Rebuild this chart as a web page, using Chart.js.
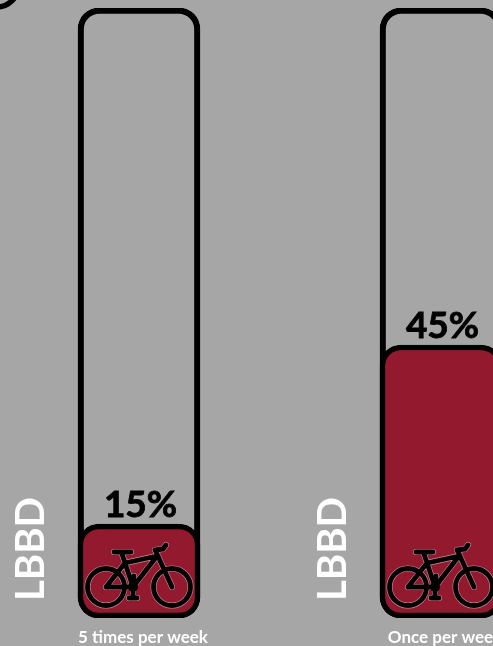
<!DOCTYPE html>
<html><head><meta charset="utf-8">
<style>
html,body{margin:0;padding:0;background:#A6A6A6;overflow:hidden;width:493px;height:646px}
canvas{position:absolute;left:-12px;top:0}
</style>
<script src="https://cdn.jsdelivr.net/npm/chart.js@4/dist/chart.umd.min.js"></script>
</head><body>
<canvas id="c" width="604" height="646"></canvas>
<script>
const categories = ["5 times per week", "Once per week"];
const shareValues = [15.4, 44.75];
const outlineValues = [100, 100];
const valueLabels = ["15%", "45%"];
const sideLabels = ["LBBD", "LBBD"];

const BLACK = "#000000", RED = "#931A2E", WHITE = "#FFFFFF";
const FONT = "Lato, 'Open Sans', sans-serif";

function drawBike(ctx, cx, cy) {
  const shapes = () => {
    ctx.beginPath();
    ctx.arc(cx - 33, cy, 18.5, 0, Math.PI * 2);
    ctx.moveTo(cx + 33 + 18.5, cy);
    ctx.arc(cx + 33, cy, 18.5, 0, Math.PI * 2);
    ctx.moveTo(cx - 33, cy);
    ctx.lineTo(cx - 6, cy);
    ctx.lineTo(cx - 14, cy - 24);
    ctx.lineTo(cx - 33, cy);
    ctx.moveTo(cx - 14, cy - 24);
    ctx.lineTo(cx + 18, cy - 31);
    ctx.lineTo(cx - 6, cy);
    ctx.moveTo(cx - 14, cy - 24);
    ctx.lineTo(cx - 17, cy - 33);
    ctx.moveTo(cx + 33, cy);
    ctx.lineTo(cx + 18, cy - 33);
    ctx.lineTo(cx + 16, cy - 37);
    ctx.lineTo(cx + 24, cy - 38);
    ctx.lineTo(cx + 27, cy - 42);
    ctx.moveTo(cx - 25, cy - 35);
    ctx.lineTo(cx - 8, cy - 35);
    ctx.moveTo(cx - 6, cy);
    ctx.lineTo(cx - 6, cy + 11);
    ctx.moveTo(cx - 10, cy + 11);
    ctx.lineTo(cx - 2, cy + 11);
    ctx.moveTo(cx - 6, cy);
    ctx.lineTo(cx - 5, cy - 11);
  };
  ctx.save();
  ctx.lineCap = "round";
  ctx.lineJoin = "round";
  shapes();
  ctx.strokeStyle = "rgba(255,255,255,0.5)";
  ctx.lineWidth = 6;
  ctx.stroke();
  shapes();
  ctx.strokeStyle = BLACK;
  ctx.lineWidth = 4.8;
  ctx.stroke();
  ctx.beginPath();
  ctx.arc(cx - 6, cy, 5, 0, Math.PI * 2);
  ctx.fillStyle = BLACK;
  ctx.fill();
  ctx.restore();
}

const decorations = {
  id: "decorations",
  afterDatasetsDraw(chart) {
    const { ctx, scales } = chart;
    const bars = chart.getDatasetMeta(1).data;
    const base = scales.y.getPixelForValue(0);
    ctx.save();
    // corner of the neighbouring panel, cut by the frame
    ctx.beginPath();
    ctx.arc(9, -14, 21, 0, Math.PI / 2 + 0.3);
    ctx.strokeStyle = BLACK;
    ctx.lineWidth = 5.5;
    ctx.stroke();
    bars.forEach((bar, i) => {
      ctx.fillStyle = BLACK;
      ctx.strokeStyle = BLACK;
      ctx.lineWidth = 0.8;
      ctx.font = "bold 37px " + FONT;
      ctx.textAlign = "center";
      ctx.textBaseline = "alphabetic";
      ctx.fillText(valueLabels[i], bar.x + 1.5, bar.y - 7);
      ctx.strokeText(valueLabels[i], bar.x + 1.5, bar.y - 7);
      drawBike(ctx, bar.x, base - 31);
      ctx.save();
      ctx.translate(bar.x - 95, base - 69);
      ctx.rotate(-Math.PI / 2);
      ctx.fillStyle = WHITE;
      ctx.font = "bold 40px " + FONT;
      ctx.textAlign = "center";
      ctx.textBaseline = "alphabetic";
      ctx.fillText(sideLabels[i], 0, 0);
      ctx.restore();
    });
    ctx.restore();
  }
};

new Chart(document.getElementById("c"), {
  type: "bar",
  plugins: [decorations],
  data: {
    labels: categories,
    datasets: [
      { data: outlineValues, backgroundColor: "rgba(0,0,0,0)", borderColor: BLACK, borderWidth: 5.5, borderRadius: 21, borderSkipped: false, barThickness: 122, order: 2 },
      { data: shareValues, backgroundColor: RED, borderColor: BLACK, borderWidth: 5.5, borderRadius: 21, borderSkipped: false, barThickness: 122, order: 1 }
    ]
  },
  options: {
    responsive: false,
    animation: false,
    events: [],
    layout: { padding: { top: 8, left: 0, right: 0, bottom: 0 } },
    plugins: { legend: { display: false }, tooltip: { enabled: false } },
    scales: {
      x: {
        stacked: false,
        afterFit(s) { s.height = 28; },
        grid: { display: false },
        border: { display: false },
        ticks: { color: WHITE, font: { family: FONT, weight: "bold", size: 17 }, maxRotation: 0, autoSkip: false, padding: 1, labelOffset: 4 }
      },
      y: { display: false, min: 0, max: 100 }
    },
    datasets: { bar: { grouped: false } }
  }
});
</script>
</body></html>
